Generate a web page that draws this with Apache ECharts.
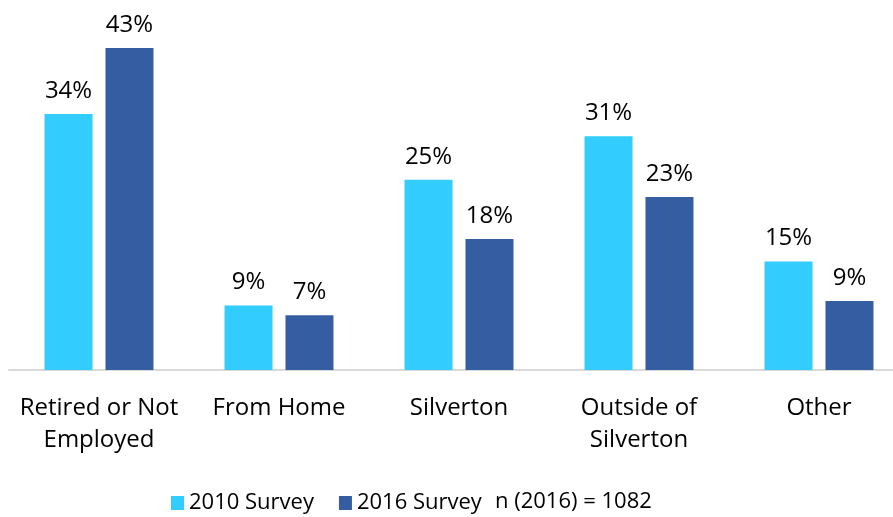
<!DOCTYPE html>
<html>
<head>
<meta charset="utf-8">
<script src="https://cdn.jsdelivr.net/npm/echarts@6/dist/echarts.min.js"></script>
<style>html,body{margin:0;padding:0;background:#fff;overflow:hidden;}#c{width:910px;height:517px;}</style>
</head>
<body>
<div id="c"></div>
<script>
var categories = ['Retired or Not\nEmployed', 'From Home', 'Silverton', 'Outside of\nSilverton', 'Other'];
var series2010 = [34.2, 8.6, 25.4, 31.2, 14.5];
var series2016 = [43.0, 7.3, 17.5, 23.1, 9.2];
var seriesNames = ['2010 Survey', '2016 Survey'];
var noteText = 'n (2016) = 1082';

var FONT = 'Open Sans';
var chart = echarts.init(document.getElementById('c'), null, {renderer: 'canvas'});
var labelCfg = {
  show: true, position: 'top', distance: 11,
  fontFamily: FONT, fontSize: 24, color: '#000',
  formatter: function (p) { return Math.round(p.value) + '%'; }
};
chart.setOption({
  animation: false,
  grid: {left: 9, width: 900, top: 33, bottom: 147, containLabel: false},
  xAxis: {
    type: 'category', data: categories,
    axisLine: {lineStyle: {color: '#D9D9D9', width: 2}},
    axisTick: {show: false},
    axisLabel: {fontFamily: FONT, fontSize: 24, color: '#000', lineHeight: 32, margin: 22, interval: 0}
  },
  yAxis: {type: 'value', min: 0, max: 45, show: false, splitLine: {show: false}},
  legend: {
    left: 166, top: 487, itemWidth: 13, itemHeight: 14, itemGap: 25, icon: 'rect',
    textStyle: {fontFamily: FONT, fontSize: 22, color: '#000'},
    data: seriesNames
  },
  graphic: [{
    type: 'text', left: 495, top: 491,
    style: {text: noteText, fontFamily: FONT, fontSize: 22, fill: '#000'}
  }],
  series: [
    {name: seriesNames[0], type: 'bar', data: series2010, barWidth: 48, barGap: '27%',
     itemStyle: {color: '#33CCFF'}, label: labelCfg},
    {name: seriesNames[1], type: 'bar', data: series2016, barWidth: 48, barGap: '27%',
     itemStyle: {color: '#355EA2'}, label: labelCfg}
  ]
});
</script>
</body>
</html>
